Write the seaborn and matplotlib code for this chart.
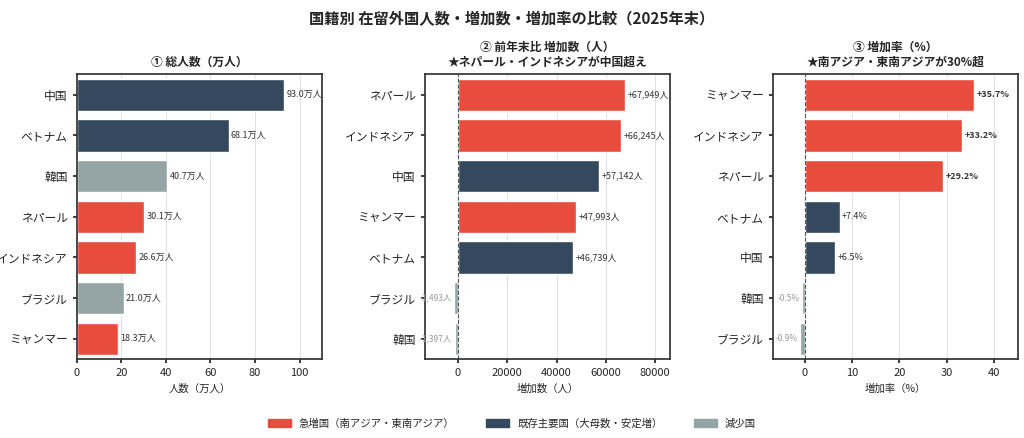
import pandas as pd
import seaborn as sns
import matplotlib.pyplot as plt

sns.set_theme(style="white")
plt.rcParams['font.family'] = ['Noto Sans CJK JP', 'DejaVu Sans']

RED = '#e74c3c'
NAVY = '#34495e'
GRAY = '#95a5a6'

# data
total_countries = ['中国', 'ベトナム', '韓国', 'ネパール', 'インドネシア', 'ブラジル', 'ミャンマー']
total_values = [93.0, 68.1, 40.7, 30.1, 26.6, 21.0, 18.3]
total_groups = ['main', 'main', 'down', 'fast', 'fast', 'down', 'fast']

inc_countries = ['ネパール', 'インドネシア', '中国', 'ミャンマー', 'ベトナム', 'ブラジル', '韓国']
inc_values = [67949, 66245, 57142, 47993, 46739, -1493, -1397]
inc_groups = ['fast', 'fast', 'main', 'fast', 'main', 'down', 'down']

rate_countries = ['ミャンマー', 'インドネシア', 'ネパール', 'ベトナム', '中国', '韓国', 'ブラジル']
rate_values = [35.7, 33.2, 29.2, 7.4, 6.5, -0.5, -0.9]
rate_groups = ['fast', 'fast', 'fast', 'main', 'main', 'down', 'down']

pal = {'fast': RED, 'main': NAVY, 'down': GRAY}

fig, axes = plt.subplots(1, 3, figsize=(10.24, 4.38), dpi=100)


def panel(ax, cats, vals, groups, title, xlabel, xlim, fmt, bold_fast=False):
    df = pd.DataFrame({'c': cats, 'v': vals, 'g': groups})
    sns.barplot(data=df, y='c', x='v', hue='g', palette=pal, dodge=False,
                legend=False, ax=ax, width=0.8, order=cats, saturation=1)
    ax.set_title(title, fontsize=8.5, fontweight='bold')
    ax.set_xlabel(xlabel, fontsize=7.5)
    ax.set_ylabel('')
    ax.set_xlim(*xlim)
    ax.tick_params(axis='both', labelsize=8, length=3, left=True, bottom=True)
    ax.tick_params(axis='y', labelsize=8.5)
    ax.grid(axis='x', color='#dddddd', linewidth=0.6)
    ax.set_axisbelow(True)
    for s in ax.spines.values():
        s.set_color('#333333')
    off = (xlim[1] - xlim[0]) * 0.01
    for i, (v, g) in enumerate(zip(vals, groups)):
        if v >= 0:
            ax.text(v + off, i, fmt(v), va='center', ha='left', fontsize=6.5,
                    color='#333333',
                    fontweight='bold' if (bold_fast and g == 'fast') else 'normal')
        else:
            ax.text(v - off, i, fmt(v), va='center', ha='right', fontsize=6,
                    color='#999999')


panel(axes[0], total_countries, total_values, total_groups,
      '① 総人数（万人）', '人数（万人）', (0, 110), lambda v: f'{v:.1f}万人')
axes[0].set_xticks([0, 20, 40, 60, 80, 100])

panel(axes[1], inc_countries, inc_values, inc_groups,
      '② 前年末比 増加数（人）\n★ネパール・インドネシアが中国超え', '増加数（人）',
      (-13500, 86000), lambda v: f'{v:+,}人')
axes[1].set_xticks([0, 20000, 40000, 60000, 80000])
axes[1].axvline(0, color='#555555', linestyle='--', linewidth=0.8)

panel(axes[2], rate_countries, rate_values, rate_groups,
      '③ 増加率（%）\n★南アジア・東南アジアが30%超', '増加率（%）',
      (-6.7, 45), lambda v: f'{v:+.1f}%', bold_fast=True)
axes[2].set_xticks([0, 10, 20, 30, 40])
axes[2].axvline(0, color='#555555', linestyle='--', linewidth=0.8)

fig.suptitle('国籍別 在留外国人数・増加数・増加率の比較（2025年末）',
             fontsize=11, fontweight='bold', y=0.975)

handles = [plt.Rectangle((0, 0), 1, 1, color=c) for c in (RED, NAVY, GRAY)]
fig.legend(handles, ['急増国（南アジア・東南アジア）', '既存主要国（大母数・安定増）', '減少国'],
           loc='lower center', ncol=3, frameon=False, fontsize=7.5,
           bbox_to_anchor=(0.5, 0.0), handlelength=2.2, columnspacing=3)

plt.subplots_adjust(left=0.075, right=0.994, top=0.83, bottom=0.18, wspace=0.42)
fig.savefig('out.png', dpi=100)
